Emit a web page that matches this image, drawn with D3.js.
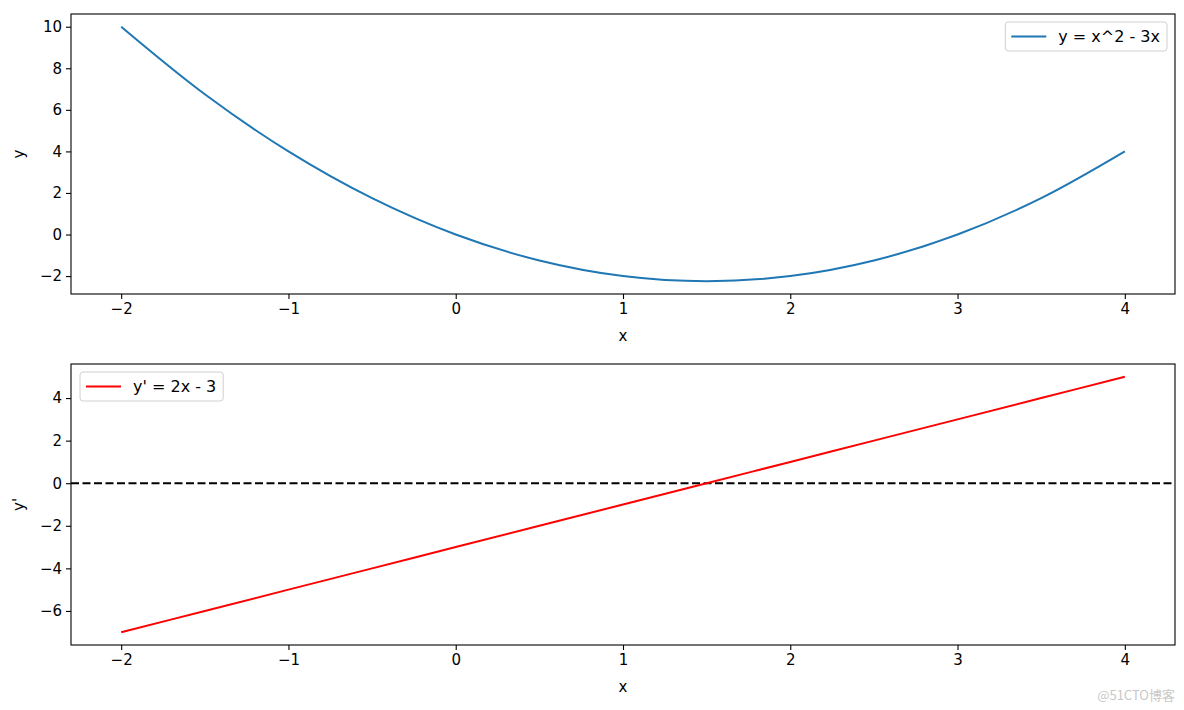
<!DOCTYPE html>
<html>
<head>
<meta charset="utf-8">
<script src="https://cdn.jsdelivr.net/npm/d3@7"></script>
<style>
  body { margin: 0; background: #fff; }
  text { font-family: "DejaVu Sans", sans-serif; fill: #000; }
</style>
</head>
<body>
<div id="chart"></div>
<script>
// values
var xValues = [-2, -1.5, -1, -0.5, 0, 0.5, 1, 1.5, 2, 2.5, 3, 3.5, 4];
var fValues = [10, 6.75, 4, 1.75, 0, -1.25, -2, -2.25, -2, -1.25, 0, 1.75, 4];
var dValues = [-7, -6, -5, -4, -3, -2, -1, 0, 1, 2, 3, 4, 5];
var xTicks = [-2, -1, 0, 1, 2, 3, 4];
var fTicks = [-2, 0, 2, 4, 6, 8, 10];
var dTicks = [-6, -4, -2, 0, 2, 4];

var W = 1184, H = 710;
var left = 71, right = 1175;
var fs = "15px";

var svg = d3.select("#chart").append("svg")
    .attr("width", W).attr("height", H);

var fmt = function (d) { return d < 0 ? "\u2212" + Math.abs(d) : String(d); };

function panel(top, bottom, xs, ys, yDomain, yTicks, color, yLabel, legendText, legendRight) {
    var x = d3.scaleLinear().domain([-2.3, 4.3]).range([left, right]);
    var y = d3.scaleLinear().domain(yDomain).range([bottom, top]);
    var g = svg.append("g");

    var pts = xs.map(function (v, i) { return [v, ys[i]]; });

    if (yLabel === "y'") {
        // horizontal dashed line at zero
        g.append("line")
            .attr("x1", left).attr("x2", right)
            .attr("y1", y(0)).attr("y2", y(0))
            .attr("stroke", "#000").attr("stroke-width", 2)
            .attr("stroke-dasharray", "8,3.5");
    }

    g.append("path")
        .datum(pts)
        .attr("fill", "none")
        .attr("stroke", color)
        .attr("stroke-width", 2)
        .attr("d", d3.line().x(d => x(d[0])).y(d => y(d[1])).curve(d3.curveCatmullRom));

    // axes
    var xAxis = d3.axisBottom(x).tickValues(xTicks).tickFormat(fmt).tickSize(5).tickPadding(4);
    var yAxis = d3.axisLeft(y).tickValues(yTicks).tickFormat(fmt).tickSize(5).tickPadding(4);

    var gx = g.append("g").attr("transform", "translate(0," + bottom + ")").call(xAxis);
    var gy = g.append("g").attr("transform", "translate(" + left + ",0)").call(yAxis);
    [gx, gy].forEach(function (a) {
        a.attr("font-size", null).attr("font-family", null);
        a.select(".domain").remove();
        a.selectAll("text").style("font-size", fs).style("font-family", "DejaVu Sans");
        a.selectAll("line").attr("stroke", "#000").attr("stroke-width", 1.1);
    });

    // frame
    g.append("rect")
        .attr("x", left).attr("y", top)
        .attr("width", right - left).attr("height", bottom - top)
        .attr("fill", "none").attr("stroke", "#000").attr("stroke-width", 1.1);

    // axis labels
    g.append("text")
        .attr("x", (left + right) / 2).attr("y", bottom + 47)
        .attr("text-anchor", "middle").style("font-size", fs)
        .text("x");
    g.append("text")
        .attr("transform", "translate(24," + ((top + bottom) / 2) + ") rotate(-90)")
        .attr("text-anchor", "middle").style("font-size", fs)
        .text(yLabel);

    // legend
    var lg = g.append("g");
    var box = lg.append("rect")
        .attr("y", 0).attr("height", 29)
        .attr("rx", 3)
        .attr("fill", "#fff").attr("fill-opacity", 0.8)
        .attr("stroke", "#d0d0d0").attr("stroke-width", 1);
    lg.append("line")
        .attr("x1", 6).attr("x2", 41).attr("y1", 14.5).attr("y2", 14.5)
        .attr("stroke", color).attr("stroke-width", 2);
    var t = lg.append("text")
        .attr("x", 53).attr("y", 20)
        .style("font-size", "16px")
        .text(legendText);
    var lw = 53 + t.node().getComputedTextLength() + 7;
    box.attr("x", 0).attr("width", lw);
    var lx = legendRight === null ? 80 : legendRight - lw;
    lg.attr("transform", "translate(" + lx + "," + (top + 8) + ")");
}

panel(14, 294, xValues, fValues, [-2.8625, 10.6125], fTicks, "#1f77b4", "y", "y = x^2 - 3x", 1167);
panel(364, 645, xValues, dValues, [-7.6, 5.6], dTicks, "#ff0000", "y'", "y' = 2x - 3", null);

// watermark
svg.append("text")
    .attr("x", 1175).attr("y", 700)
    .attr("text-anchor", "end")
    .style("font-family", "'Noto Sans CJK SC', sans-serif")
    .style("font-size", "13px")
    .style("fill", "#c8c8c8")
    .text("@51CTO博客");
</script>
</body>
</html>
